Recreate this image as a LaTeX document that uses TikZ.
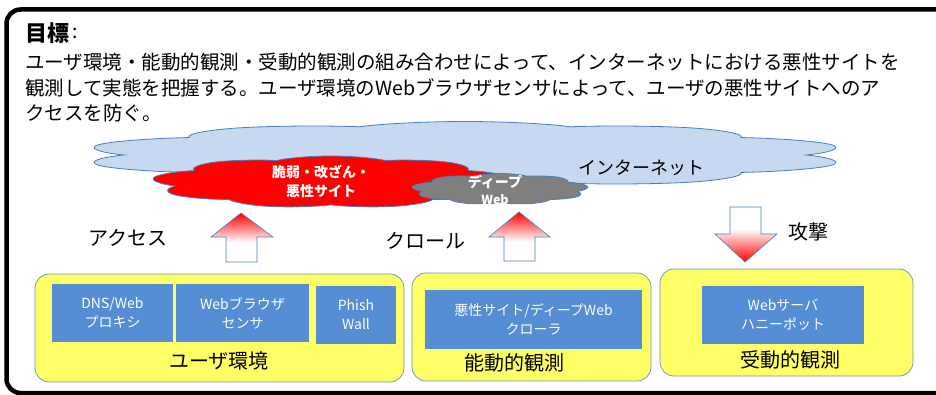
\documentclass[tikz,border=0pt]{standalone}
\usepackage{fontspec}
\setmainfont{Noto Sans CJK JP}
\usetikzlibrary{shapes.symbols}
\definecolor{cloudblue}{HTML}{C6D9F1}
\definecolor{edgeblue}{HTML}{4A7EBB}
\definecolor{boxblue}{HTML}{558ED5}
\definecolor{ybox}{HTML}{FFFF66}
\definecolor{gcloud}{HTML}{7F7F7F}
\pgfdeclareverticalshading{arrowup}{100bp}{color(0bp)=(white); color(25bp)=(white); color(45bp)=(white); color(75bp)=(red); color(100bp)=(red)}
\pgfdeclareverticalshading{arrowdown}{100bp}{color(0bp)=(red); color(25bp)=(red); color(55bp)=(white); color(75bp)=(white); color(100bp)=(white)}
\tikzset{
 txt/.style={font=\fontsize{19.5}{23}\selectfont, anchor=west, inner sep=0},
 cloudshape/.style={cloud, cloud puffs=#1, cloud puff arc=120, aspect=1, minimum size=100, draw=edgeblue, line width=0.8, inner sep=0, transform shape},
 group/.style={draw=edgeblue!80, fill=ybox, rounded corners=14, line width=0.8},
 inner/.style={fill=boxblue, text=white, align=center, inner sep=0, font=\fontsize{14}{19}\selectfont},
 lbl/.style={font=\fontsize{20}{24}\selectfont, inner sep=0},
 blockarrow/.style={draw=edgeblue, line width=0.6}
}
\begin{document}
\begin{tikzpicture}[x=1pt,y=-1pt]
\useasboundingbox (0,0) rectangle (936,395);
\draw[line width=4.5, rounded corners=14] (6.5,9.5) rectangle (960,393);
% header text
\node[txt, font=\fontsize{22}{26}\selectfont\bfseries] (title) at (25,33) {目標};
\node[txt, anchor=west] (colon) at ([xshift=3]title.east) {:};
\node[txt] (l1) at (25,62) {ユーザ環境・能動的観測・受動的観測の組み合わせによって、インターネットにおける悪性サイトを};
\node[txt] (l2) at (25,88) {観測して実態を把握する。ユーザ環境のWebブラウザセンサによって、ユーザの悪性サイトへのア};
\node[txt] (l3) at (25,113) {クセスを防ぐ。};
% clouds
\begin{scope}[shift={(465,155)}, xscale=7.7, yscale=0.67]
\node[cloudshape=10, fill=cloudblue] (net) at (0,0) {};
\end{scope}
\begin{scope}[shift={(331,182)}, xscale=3.6, yscale=0.52]
\node[cloudshape=9, fill=red] (bad) at (0,0) {};
\end{scope}
\begin{scope}[shift={(500,189)}, xscale=1.78, yscale=0.31]
\node[cloudshape=9, fill=gcloud] (deep) at (0,0) {};
\end{scope}
\node[lbl, font=\fontsize{18}{22}\selectfont] (nettxt) at (641,168) {インターネット};
\node[text=white, align=center, inner sep=0, font=\fontsize{14}{19}\selectfont\bfseries] (badtxt) at (321,182) {脆弱・改ざん・\\悪性サイト};
\node[text=white, align=center, inner sep=0, font=\fontsize{14}{17}\selectfont\bfseries] (deeptxt) at (495,190) {ディープ\\{\fontsize{12.5}{14}\selectfont Web}};
% arrows
\shadedraw[blockarrow, shading=arrowup] (241,213) -- (273,237) -- (257,237) -- (257,262) -- (226,262) -- (226,237) -- (211,237) -- cycle;
\shadedraw[blockarrow, shading=arrowup] (519,212) -- (550,237) -- (535,237) -- (535,261) -- (504,261) -- (504,237) -- (489,237) -- cycle;
\shadedraw[blockarrow, shading=arrowdown] (730,207) -- (761,207) -- (761,234) -- (777,234) -- (745,262) -- (715,234) -- (730,234) -- cycle;
\node[lbl] (access) at (128,238) {アクセス};
\node[lbl] (crawl) at (425,241) {クロール};
\node[lbl] (attack) at (808,232) {攻撃};
% groups
\node[group, minimum width=369, minimum height=108] (user) at (219.5,328) {};
\node[group, minimum width=239, minimum height=108] (active) at (531.5,327) {};
\node[group, minimum width=253, minimum height=107] (passive) at (786.5,322.5) {};
\node[inner, minimum width=121, minimum height=58] (dns) at (112.5,313) {DNS/Web\\プロキシ};
\node[inner, minimum width=133, minimum height=58] (sensor) at (242.5,313) {Webブラウザ\\センサ};
\node[inner, minimum width=80, minimum height=58] (phish) at (356,315) {Phish\\Wall};
\node[inner, minimum width=217, minimum height=59] (crawler) at (533.5,319.5) {悪性サイト/ディープWeb\\クローラ};
\node[inner, minimum width=162, minimum height=58] (honey) at (783,315) {Webサーバ\\ハニーポット};
\node[lbl] (usertxt) at (219,361) {ユーザ環境};
\node[lbl] (activetxt) at (514,363) {能動的観測};
\node[lbl] (passivetxt) at (790,360) {受動的観測};
\end{tikzpicture}
\end{document}
